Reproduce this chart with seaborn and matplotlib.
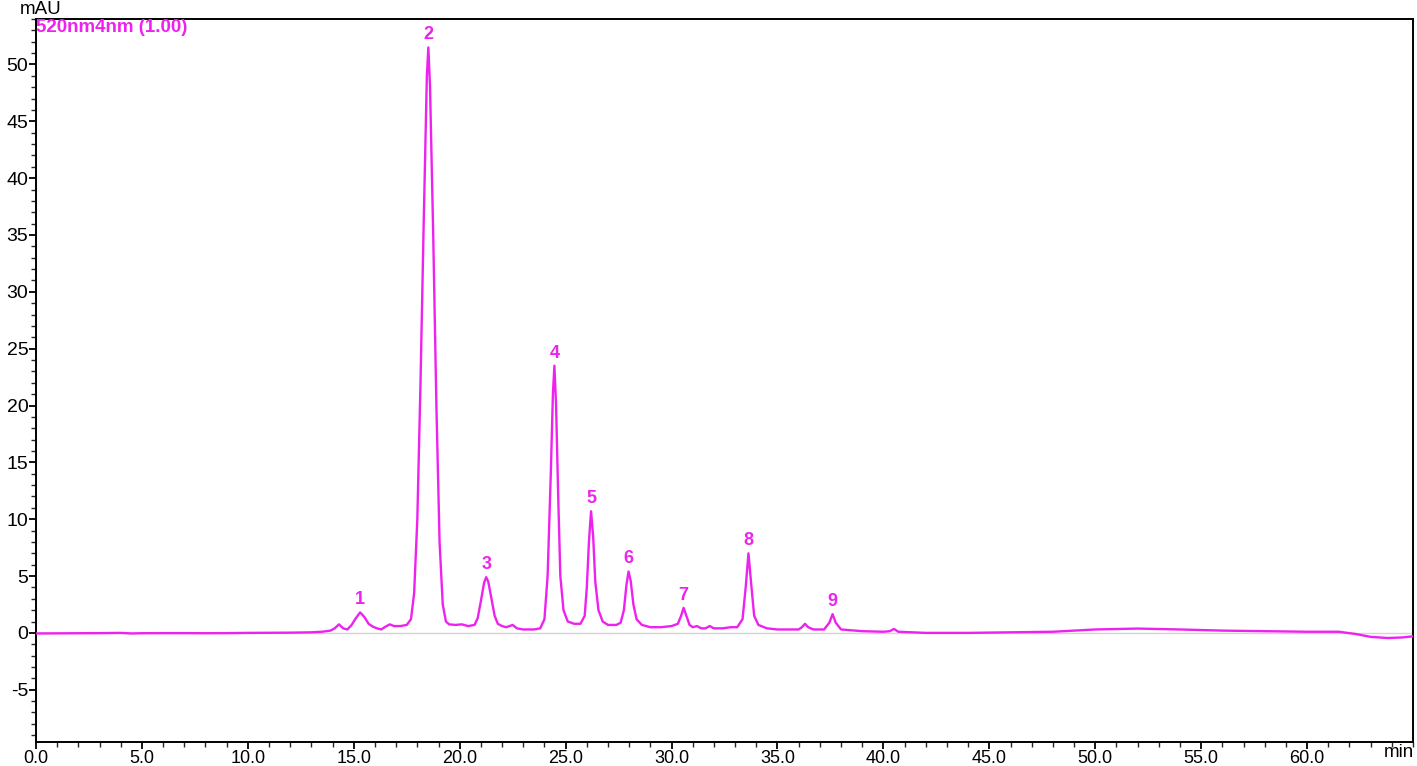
import matplotlib
matplotlib.use("Agg")
import matplotlib.pyplot as plt
from matplotlib.ticker import MultipleLocator, FixedLocator
import seaborn as sns
import pandas as pd

# ---- data ----
trace_time = [0.0, 1.0, 2.0, 3.0, 4.0, 4.5, 5.0, 6.0, 7.0, 8.0, 9.0, 10.0, 11.0, 12.0, 13.0, 13.5,
              13.9, 14.1, 14.3, 14.5, 14.7, 14.9, 15.1, 15.3, 15.5, 15.7, 15.9, 16.1, 16.3, 16.5,
              16.7, 16.9, 17.2, 17.5, 17.7, 17.85, 18.0, 18.15, 18.3, 18.45, 18.52, 18.6, 18.75,
              18.9, 19.05, 19.2, 19.35, 19.5, 19.8, 20.1, 20.4, 20.7, 20.85, 21.0, 21.15, 21.25,
              21.35, 21.5, 21.65, 21.8, 22.0, 22.2, 22.5, 22.7, 23.0, 23.5, 23.8, 24.0, 24.15,
              24.3, 24.4, 24.47, 24.55, 24.65, 24.75, 24.9, 25.1, 25.4, 25.7, 25.9, 26.0, 26.1,
              26.2, 26.3, 26.4, 26.55, 26.75, 27.0, 27.4, 27.6, 27.75, 27.87, 27.97, 28.07, 28.2,
              28.35, 28.6, 29.0, 29.5, 30.0, 30.3, 30.45, 30.57, 30.7, 30.85, 31.0, 31.2, 31.4,
              31.6, 31.8, 32.0, 32.4, 32.8, 33.1, 33.35, 33.5, 33.63, 33.75, 33.9, 34.1, 34.5,
              35.0, 35.5, 36.0, 36.15, 36.3, 36.45, 36.7, 37.2, 37.45, 37.6, 37.75, 38.0, 39.0,
              40.0, 40.3, 40.5, 40.7, 42.0, 44.0, 46.0, 48.0, 50.0, 52.0, 54.0, 56.0, 58.0, 60.0,
              61.5, 62.3, 63.0, 63.8, 64.5, 65.0]
trace_mau = [-0.05, -0.04, -0.03, -0.02, 0.0, -0.05, -0.03, -0.02, -0.02, -0.03, -0.02, 0.0, 0.01, 0.02, 0.05, 0.1,
             0.2, 0.4, 0.75, 0.4, 0.3, 0.7, 1.3, 1.8, 1.4, 0.8, 0.55, 0.4, 0.3, 0.55,
             0.75, 0.6, 0.6, 0.7, 1.2, 3.5, 10.0, 22.0, 36.0, 49.0, 51.5, 48.0, 35.0,
             20.0, 8.0, 2.5, 1.0, 0.75, 0.7, 0.75, 0.6, 0.7, 1.3, 2.8, 4.4, 4.9,
             4.5, 3.0, 1.5, 0.8, 0.6, 0.5, 0.7, 0.4, 0.3, 0.3, 0.4, 1.2, 5.0,
             14.0, 21.0, 23.5, 20.0, 12.0, 5.0, 2.0, 1.0, 0.8, 0.8, 1.5, 4.0, 8.0,
             10.7, 8.5, 4.5, 2.0, 1.0, 0.7, 0.7, 0.9, 2.0, 4.2, 5.4, 4.6, 2.5,
             1.2, 0.7, 0.5, 0.5, 0.6, 0.8, 1.5, 2.2, 1.5, 0.7, 0.5, 0.6, 0.4,
             0.4, 0.6, 0.4, 0.4, 0.5, 0.5, 1.2, 4.0, 7.0, 4.5, 1.5, 0.7, 0.4,
             0.3, 0.3, 0.3, 0.5, 0.8, 0.5, 0.3, 0.3, 0.9, 1.65, 0.9, 0.3, 0.15,
             0.1, 0.15, 0.35, 0.1, 0.0, 0.0, 0.05, 0.1, 0.3, 0.38, 0.3, 0.2, 0.15, 0.1,
             0.1, -0.1, -0.35, -0.45, -0.4, -0.3]

peak_labels = ["1", "2", "3", "4", "5", "6", "7", "8", "9"]
peak_time = [15.3, 18.52, 21.25, 24.47, 26.2, 27.97, 30.57, 33.63, 37.6]
peak_height = [1.8, 51.5, 4.9, 23.5, 10.7, 5.4, 2.2, 7.0, 1.65]

x_ticks = [0, 5, 10, 15, 20, 25, 30, 35, 40, 45, 50, 55, 60]
x_tick_labels = ["0.0", "5.0", "10.0", "15.0", "20.0", "25.0", "30.0", "35.0",
                 "40.0", "45.0", "50.0", "55.0", "60.0"]
y_ticks = [-5, 0, 5, 10, 15, 20, 25, 30, 35, 40, 45, 50]

channel_label = "520nm4nm (1.00)"
y_unit = "mAU"
x_unit = "min"

# ---- drawing ----
sns.set_style("ticks")
plt.rcParams["font.family"] = ["Liberation Sans", "DejaVu Sans"]
plt.rcParams["axes.unicode_minus"] = False

MAG = "#EE22EE"
fig = plt.figure(figsize=(14.17, 7.66), dpi=100)
ax = fig.add_axes([0.0254, 0.0313, 0.9718, 0.9439])

ax.axhline(0, color="#D4D4D4", lw=1.0, zorder=1)
df = pd.DataFrame({"t": trace_time, "mau": trace_mau})
sns.lineplot(data=df, x="t", y="mau", ax=ax, color=MAG, lw=1.7, zorder=3)

for lab, t, h in zip(peak_labels, peak_time, peak_height):
    ax.annotate(lab, (t, h), xytext=(0, 3), textcoords="offset points",
                ha="center", va="bottom", color=MAG, fontsize=13, fontweight="bold")

ax.set_xlim(0, 65)
ax.set_ylim(-9.6, 54)
ax.xaxis.set_major_locator(FixedLocator(x_ticks))
ax.set_xticklabels(x_tick_labels)
ax.xaxis.set_minor_locator(MultipleLocator(1))
ax.yaxis.set_major_locator(FixedLocator(y_ticks))
ax.yaxis.set_minor_locator(MultipleLocator(1))
ax.tick_params(axis="both", which="major", direction="out", length=5, width=1.3,
               labelsize=13, colors="black", pad=1)
ax.tick_params(axis="y", labelsize=14, pad=0.5)
ax.tick_params(axis="both", which="minor", direction="out", length=3.5, width=1.0)
for s in ax.spines.values():
    s.set_visible(True)
    s.set_linewidth(1.4)
    s.set_color("black")
ax.set_xlabel("")
ax.set_ylabel("")

ax.text(0.0, 1.0, channel_label, transform=ax.transAxes, ha="left", va="top",
        color=MAG, fontsize=13.5, fontweight="bold")
fig.text(0.0289, 0.976, y_unit, ha="center", va="bottom", fontsize=13.5, color="black")
fig.text(0.987, 0.007, x_unit, ha="center", va="bottom", fontsize=13.5, color="black")

fig.savefig("out.png", dpi=100)
